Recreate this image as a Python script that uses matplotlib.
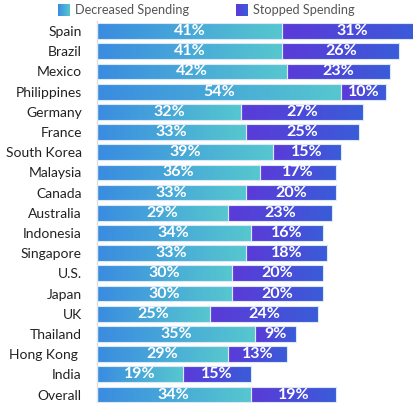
import matplotlib.pyplot as plt
import matplotlib.colors as mcolors
import numpy as np

plt.rcParams['font.family'] = ['Lato', 'DejaVu Sans']

countries = ['Spain', 'Brazil', 'Mexico', 'Philippines', 'Germany', 'France',
             'South Korea', 'Malaysia', 'Canada', 'Australia', 'Indonesia',
             'Singapore', 'U.S.', 'Japan', 'UK', 'Thailand', 'Hong Kong ',
             'India', 'Overall']
decreased = [41, 41, 42, 54, 32, 33, 39, 36, 33, 29, 34, 33, 30, 30, 25, 35, 29, 19, 34]
stopped = [31, 26, 23, 10, 27, 25, 15, 17, 20, 23, 16, 18, 20, 20, 24, 9, 13, 15, 19]

dec_cmap = mcolors.LinearSegmentedColormap.from_list('dec', ['#3a8ce0', '#56c7cf'])
stop_cmap = mcolors.LinearSegmentedColormap.from_list('stop', ['#5b3ad8', '#3a5cd9'])
grad = np.linspace(0, 1, 64).reshape(1, -1)

fig = plt.figure(figsize=(4.13, 4.03), dpi=100)
ax = fig.add_axes([0.235, 0.0, 0.765, 0.948])

y = np.arange(len(countries))
bh = 0.78


def grad_bars(left, width, cmap):
    bars = ax.barh(y, width, left=left, height=bh, color='none',
                   edgecolor='#dbe8f5', linewidth=0.8, zorder=3)
    for b in bars:
        x0, y0 = b.get_x(), b.get_y()
        im = ax.imshow(grad, cmap=cmap, aspect='auto', interpolation='bicubic',
                       extent=[x0, x0 + b.get_width(), y0, y0 + b.get_height()],
                       zorder=2)
        im.set_clip_path(b)
    return bars


grad_bars(0, decreased, dec_cmap)
grad_bars(decreased, stopped, stop_cmap)

for i in range(len(countries)):
    ax.text(decreased[i] / 2, i, f'{decreased[i]}%', ha='center', va='center',
            color='white', fontsize=11.5, fontweight='bold', zorder=4)
    ax.text(decreased[i] + stopped[i] / 2, i, f'{stopped[i]}%', ha='center',
            va='center', color='white', fontsize=11.5, fontweight='bold', zorder=4)

ax.set_xlim(0, 70)
ax.set_ylim(18.42, -0.5)
ax.set_yticks(y)
ax.set_yticklabels(countries, fontsize=10, color='#222222')
ax.tick_params(axis='y', length=0, pad=11)
ax.set_xticks([])
for s in ['top', 'right', 'bottom']:
    ax.spines[s].set_visible(False)
ax.spines['left'].set_color('#dddddd')
ax.spines['left'].set_linewidth(1)

# legend with gradient swatches
for x0, cmap, label in [(58, dec_cmap, 'Decreased Spending'),
                        (236, stop_cmap, 'Stopped Spending')]:
    lax = fig.add_axes([x0 / 413, 1 - 16 / 403, 12 / 413, 12 / 403])
    lax.imshow(grad, cmap=cmap, aspect='auto')
    lax.axis('off')
    fig.text((x0 + 17) / 413, 1 - 10 / 403, label, fontsize=9.2,
             color='#555555', va='center', ha='left')

fig.savefig('out.png', dpi=100)
